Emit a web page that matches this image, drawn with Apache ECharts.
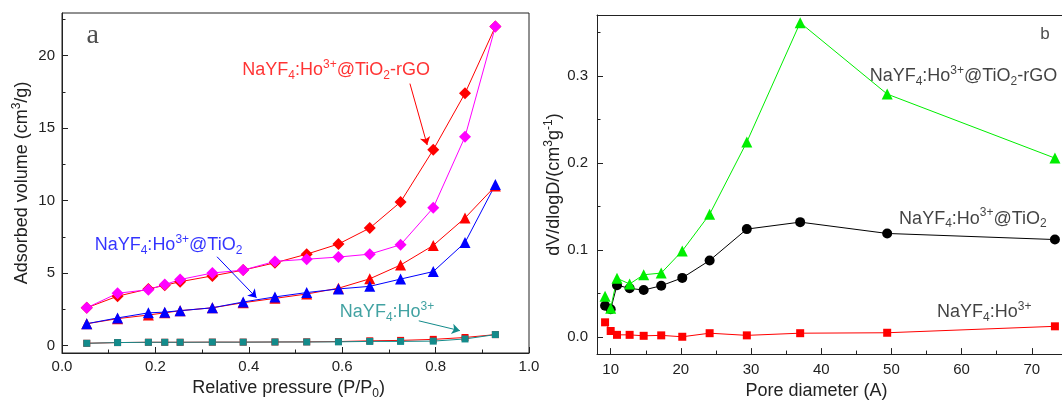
<!DOCTYPE html>
<html><head><meta charset="utf-8">
<script src="https://cdn.jsdelivr.net/npm/echarts@6/dist/echarts.min.js"></script>
<style>html,body{margin:0;padding:0;background:#fff}#c{width:1062px;height:405px}</style>
</head><body><div id="c"></div>
<script>
// ---------- Panel a: N2 isotherms ----------
const pressure = [0.053, 0.119, 0.185, 0.220, 0.253, 0.322, 0.388, 0.456, 0.524, 0.592, 0.659, 0.725, 0.795, 0.863, 0.928];
const rgoAds  = [2.6, 3.4, 3.9, 4.15, 4.4, 4.8, 5.2, 5.7, 6.3, 7.0, 8.1, 9.9, 13.5, 17.4, 22.0];
const rgoDes  = [2.6, 3.6, 3.85, 4.2, 4.55, 5.0, 5.2, 5.8, 5.95, 6.1, 6.3, 6.95, 9.5, 14.4, 22.0];
const tio2Ads = [1.5, 1.85, 2.1, 2.25, 2.4, 2.6, 2.95, 3.25, 3.55, 3.95, 4.6, 5.55, 6.9, 8.8, 11.0];
const tio2Des = [1.5, 1.9, 2.25, 2.3, 2.4, 2.6, 3.0, 3.35, 3.65, 3.9, 4.08, 4.58, 5.1, 7.1, 11.1];
const hoAds   = [0.15, 0.2, 0.22, 0.22, 0.22, 0.23, 0.23, 0.24, 0.25, 0.27, 0.32, 0.35, 0.42, 0.55, 0.75];
const hoDes   = [0.15, 0.2, 0.22, 0.22, 0.22, 0.23, 0.23, 0.24, 0.24, 0.25, 0.28, 0.28, 0.3, 0.45, 0.75];
const aXTicks = [0, 0.2, 0.4, 0.6, 0.8, 1.0];
const aXMinor = [0.1, 0.3, 0.5, 0.7, 0.9];
const aYTicks = [0, 5, 10, 15, 20];
const aYMinor = [2.5, 7.5, 12.5, 17.5, 22.5];

// ---------- Panel b: pore size distribution ----------
const poreDiam = [9.2, 10.0, 10.9, 12.7, 14.7, 17.2, 20.2, 24.1, 29.4, 37.0, 49.4, 73.3];
const psdRGO  = [0.047, 0.033, 0.0675, 0.061, 0.0716, 0.0735, 0.099, 0.141, 0.224, 0.361, 0.279, 0.2055];
const psdTiO2 = [0.036, 0.032, 0.0596, 0.056, 0.054, 0.059, 0.068, 0.088, 0.124, 0.132, 0.119, 0.112];
const psdHo   = [0.017, 0.007, 0.0026, 0.0026, 0.0015, 0.002, 0.0004, 0.0045, 0.002, 0.0045, 0.005, 0.0124];
const bXTicks = [10, 20, 30, 40, 50, 60, 70];
const bXMinor = [15, 25, 35, 45, 55, 65];
const bYTicks = [0, 0.1, 0.2, 0.3];
const bYMinor = [0.05, 0.15, 0.25, 0.35];

// ---------- annotation texts / anchors (data coords) ----------
const txtRGO  = '{n|NaYF}{sub|4}{n|:Ho}{sup|3+}{n|@TiO}{sub|2}{n|-rGO}';
const txtTiO2 = '{n|NaYF}{sub|4}{n|:Ho}{sup|3+}{n|@TiO}{sub|2}';
const txtHo   = '{n|NaYF}{sub|4}{n|:Ho}{sup|3+}';
const aLabelPos = [[0.386, 19.0], [0.070, 6.95], [0.595, 2.3]];
const aArrows = [[[0.745, 18.07], [0.782, 13.83]], [[0.332, 6.12], [0.4165, 3.29]], [[0.764, 1.70], [0.852, 1.02]]];
const aTagPos = [0.066, 21.36];
const bLabelPos = [[46.9, 0.300], [51.1, 0.136], [56.5, 0.0286]];
const bTagPos = [71.9, 0.348];

const FONT = 'Liberation Sans';
const AX = '#222';
function rich(fs, color) {
  const s = Math.round(fs * 0.66);
  return {
    n:   {fontSize: fs, fontFamily: FONT, color: color, lineHeight: fs + 5},
    sub: {fontSize: s, fontFamily: FONT, color: color, lineHeight: 13, verticalAlign: 'bottom'},
    sup: {fontSize: s, fontFamily: FONT, color: color, lineHeight: 9, verticalAlign: 'top'}
  };
}
function zip(xs, ys) { return xs.map((x, i) => [x, ys[i]]); }

function majorAxis(gridIndex, pos, min, max, ticks, fmt, name, nameGap, namePad, margin) {
  return {
    type: 'value', gridIndex: gridIndex, position: pos, min: min, max: max,
    splitLine: {show: false},
    axisLine: {show: true, onZero: false, lineStyle: {color: AX, width: 1}},
    axisTick: {show: true, inside: true, length: 6, customValues: ticks, lineStyle: {color: AX}},
    axisLabel: {show: true, customValues: ticks, formatter: fmt, margin: margin, fontSize: 15, fontFamily: FONT, color: AX},
    name: name, nameLocation: 'middle', nameGap: nameGap,
    nameTextStyle: {rich: rich(18, AX), padding: namePad}
  };
}
function minorAxis(gridIndex, pos, min, max, ticks) {
  return {
    type: 'value', gridIndex: gridIndex, position: pos, min: min, max: max,
    splitLine: {show: false},
    axisLine: {show: false, onZero: false},
    axisTick: {show: true, inside: true, length: 3.5, customValues: ticks, lineStyle: {color: AX}},
    axisLabel: {show: false}
  };
}
function frameAxis(gridIndex, pos, min, max) {
  return {
    type: 'value', gridIndex: gridIndex, position: pos, min: min, max: max,
    splitLine: {show: false},
    axisLine: {show: true, onZero: false, lineStyle: {color: AX, width: 1}},
    axisTick: {show: false}, axisLabel: {show: false}
  };
}
function lineSeries(xi, yi, xs, ys, color, symbol, size) {
  return {
    type: 'line', xAxisIndex: xi, yAxisIndex: yi, data: zip(xs, ys),
    symbol: symbol, symbolSize: size, showAllSymbol: true,
    lineStyle: {color: color, width: 1}, itemStyle: {color: color},
    emphasis: {disabled: true}
  };
}
function labelSeries(xi, yi, pos, text, color, arrow) {
  const s = {
    type: 'scatter', xAxisIndex: xi, yAxisIndex: yi, data: [pos], symbolSize: 0,
    label: {show: true, position: 'right', distance: 0, formatter: text, rich: rich(18, color)},
    emphasis: {disabled: true}, silent: true
  };
  if (arrow) {
    s.markLine = {
      silent: true, symbol: ['none', 'arrow'], symbolSize: 8, animation: false,
      label: {show: false}, lineStyle: {color: color, width: 1, type: 'solid'},
      data: [[{coord: arrow[0]}, {coord: arrow[1]}]]
    };
  }
  return s;
}
function tagSeries(xi, yi, pos, text, font, size) {
  return {
    type: 'scatter', xAxisIndex: xi, yAxisIndex: yi, data: [pos], symbolSize: 0, silent: true,
    label: {show: true, position: 'inside', formatter: text, fontSize: size, fontFamily: font, color: '#222'}
  };
}

const fmt1 = v => v.toFixed(1);
const fmt0 = v => String(Math.round(v));

const option = {
  animation: false,
  backgroundColor: '#fff',
  grid: [
    {left: 62, top: 13, width: 467, height: 345, show: true, borderColor: AX, borderWidth: 1, backgroundColor: 'transparent'},
    {left: 597, top: 15, width: 465, height: 346, show: false}
  ],
  xAxis: [
    majorAxis(0, 'bottom', 0, 1, aXTicks, fmt1, '{n|Relative pressure (P/P}{sub|0}{n|)}', 24, [0, 14, 0, 0], 6),
    minorAxis(0, 'bottom', 0, 1, aXMinor),
    majorAxis(1, 'bottom', 8.05, 74.31, bXTicks, fmt0, '{n|Pore diameter (A)}', 22, [0, 26, 0, 0], 8),
    minorAxis(1, 'bottom', 8.05, 74.31, bXMinor),
    frameAxis(1, 'top', 8.05, 74.31)
  ],
  yAxis: [
    majorAxis(0, 'left', -0.52, 22.94, aYTicks, fmt0, '{n|Adsorbed volume (cm}{sup|3}{n|/g)}', 28, 0, 7),
    minorAxis(0, 'left', -0.52, 22.94, aYMinor),
    majorAxis(1, 'left', -0.0195, 0.3698, bYTicks, fmt1, '{n|dV/dlogD/(cm}{sup|3}{n|g}{sup|-1}{n|)}', 29, 0, 9),
    minorAxis(1, 'left', -0.0195, 0.3698, bYMinor)
  ],
  series: [
    lineSeries(0, 0, pressure, hoAds, '#ff0000', 'rect', 7),
    lineSeries(0, 0, pressure, hoDes, '#138b8b', 'rect', 7),
    lineSeries(0, 0, pressure, tio2Ads, '#ff0000', 'triangle', 11),
    lineSeries(0, 0, pressure, tio2Des, '#0000ff', 'triangle', 11),
    lineSeries(0, 0, pressure, rgoAds, '#ff0000', 'diamond', 12),
    lineSeries(0, 0, pressure, rgoDes, '#ff00ff', 'diamond', 12),
    labelSeries(0, 0, aLabelPos[0], txtRGO, '#ff0000', aArrows[0]),
    labelSeries(0, 0, aLabelPos[1], txtTiO2, '#0000ff', aArrows[1]),
    labelSeries(0, 0, aLabelPos[2], txtHo, '#138b8b', aArrows[2]),
    tagSeries(0, 0, aTagPos, 'a', 'Liberation Serif', 28),

    lineSeries(2, 2, poreDiam, psdHo, '#ff0000', 'rect', 8),
    lineSeries(2, 2, poreDiam, psdTiO2, '#000000', 'circle', 10),
    lineSeries(2, 2, poreDiam, psdRGO, '#00ee00', 'triangle', 11),
    labelSeries(2, 2, bLabelPos[0], txtRGO, '#111', null),
    labelSeries(2, 2, bLabelPos[1], txtTiO2, '#111', null),
    labelSeries(2, 2, bLabelPos[2], txtHo, '#111', null),
    tagSeries(2, 2, bTagPos, 'b', FONT, 17)
  ]
};
const chart = echarts.init(document.getElementById('c'), null, {renderer: 'canvas'});
chart.setOption(option);
</script>
</body></html>
